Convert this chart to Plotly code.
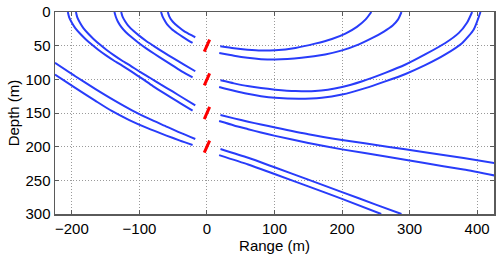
import plotly.graph_objects as go

# ---- data ----
# left-side pairs (arrive at the array from the upper left)
B1_x = [-68, -66, -63, -59, -52, -44, -36, -28, -21.3]
B1_d = [0, 6, 12, 18.5, 25.5, 31.5, 37, 42, 46]
B2_x = [-58, -56, -52.5, -48, -41, -34, -26, -17.3]
B2_d = [0, 6, 12, 17, 23, 28.5, 33, 37.5]

A1_x = [-137, -135, -132, -127, -120, -111, -101, -90, -78, -64, -50, -36, -21.3]
A1_d = [0, 7, 14, 22, 30, 38, 46, 54, 62, 71, 80, 89, 97]
A2_x = [-127, -125, -121, -116, -109, -100, -90, -78, -64, -50, -34, -17.3]
A2_d = [0, 7, 14, 21, 28, 35.5, 43, 51, 60, 68.5, 78, 88]

C1_x = [-206, -204, -200, -195, -188, -180, -171, -161, -150, -138, -125, -111, -96, -80, -63, -45, -33, -21.3]
C1_d = [0, 8, 16, 24, 32, 40, 48, 56, 64, 72, 80, 89, 99, 110, 121, 132, 139.5, 146.6]
C2_x = [-194, -192, -188, -183, -176, -168, -159, -149, -138, -126, -113, -99, -84, -68, -51, -34, -17.3]
C2_d = [0, 8, 16, 24, 32, 40, 48, 56, 64, 72, 80, 89, 98, 108, 118, 128.5, 138.7]

D1_x = [-225, -195, -165, -141, -115, -88, -60, -40, -21.3]
D1_d = [93, 112.6, 132, 147, 160.5, 172.5, 183.5, 191, 197.6]
D2_x = [-225, -195, -165, -136, -111, -86, -59, -38, -17.3]
D2_d = [75.5, 95.4, 114.5, 132, 146, 158.5, 170.5, 180, 188.6]

# right-side pairs (leave the array toward the right)
E1_x = [19.7, 40, 60, 80, 101, 131, 160, 185, 205, 222, 235, 243.4]
E1_d = [51, 54, 56, 57.3, 56.8, 53.3, 47, 40, 32, 22, 11, 0]
E2_x = [18.2, 40, 60, 80, 101, 140, 175, 200, 225, 245, 262, 275, 283, 288]
E2_d = [61, 65, 68, 70, 70.6, 68, 63, 57, 48, 38.5, 29, 20, 11, 0]

F1_x = [20, 40, 60, 80, 101, 131, 160, 200, 230, 264, 294, 323, 353, 373, 385, 392.6]
F1_d = [101.5, 106, 110, 113, 115.3, 117.5, 117.5, 111.3, 102.8, 90.4, 78, 63, 46, 31, 16, 0]
F2_x = [18, 40, 60, 80, 101, 136, 170, 200, 234.5, 264, 294, 323, 353, 378, 395, 405]
F2_d = [111.4, 117, 121.5, 125, 127.5, 129, 127.5, 122.6, 113, 103, 92, 79, 63, 46, 26, 0]

G1_x = [20, 40, 61, 80, 101, 150, 200, 267, 320, 380, 427]
G1_d = [153, 158, 163, 167, 171.5, 181.5, 190, 200, 208, 217, 224.5]
G2_x = [18, 40, 61, 80, 101, 150, 200, 267, 320, 380, 427]
G2_d = [162, 168.5, 174, 179, 184, 194.5, 204, 215, 224, 234, 243]

H1_x = [20, 61, 101, 150, 200, 250, 288]
H1_d = [203.5, 216.5, 231, 249, 267.5, 286, 300]
H2_x = [18, 61, 101, 150, 200, 258]
H2_d = [212.5, 226.5, 241, 259, 277.5, 300]

# red array segments at range 0
red_x = [[4, -4], [4, -4], [4, -4], [4, -4]]
red_d = [[41, 59], [91, 109], [141, 159], [191, 209]]

x_ticks = [-200, -100, 0, 100, 200, 300, 400]
y_ticks = [0, 50, 100, 150, 200, 250, 300]

BLUE = "rgb(40,60,250)"
RED = "rgb(255,0,0)"

blue_curves = [
    (B1_x, B1_d), (B2_x, B2_d), (A1_x, A1_d), (A2_x, A2_d),
    (C1_x, C1_d), (C2_x, C2_d), (D1_x, D1_d), (D2_x, D2_d),
    (E1_x, E1_d), (E2_x, E2_d), (F1_x, F1_d), (F2_x, F2_d),
    (G1_x, G1_d), (G2_x, G2_d), (H1_x, H1_d), (H2_x, H2_d),
]

fig = go.Figure()
for xs, ds in blue_curves:
    fig.add_trace(go.Scatter(x=xs, y=ds, mode="lines",
                             line=dict(color=BLUE, width=2, shape="spline", smoothing=0.6),
                             showlegend=False, hoverinfo="skip"))
for xs, ds in zip(red_x, red_d):
    fig.add_trace(go.Scatter(x=xs, y=ds, mode="lines",
                             line=dict(color=RED, width=3),
                             showlegend=False, hoverinfo="skip"))

axis_common = dict(
    showline=True, linecolor="#5a5a5a", linewidth=1.5, mirror="allticks",
    ticks="inside", ticklen=4, tickcolor="#5a5a5a", tickwidth=1,
    showgrid=True, gridcolor="#9a9a9a", griddash="1px,2px", gridwidth=1,
    zeroline=False, tickfont=dict(size=15, color="black"), automargin=False,
)

fig.update_layout(
    width=498, height=255,
    margin=dict(l=55, r=4, t=12, b=41),
    paper_bgcolor="white", plot_bgcolor="white",
    font=dict(family="Liberation Sans, Arial, sans-serif", size=15, color="black"),
    xaxis=dict(range=[-225, 425], tickvals=x_ticks,
               ticktext=[("\u2212" + str(-v)) if v < 0 else str(v) for v in x_ticks],
               title=dict(text="Range (m)", standoff=0, font=dict(size=15)),
               **axis_common),
    yaxis=dict(range=[300, 0], tickvals=y_ticks,
               title=dict(text="Depth (m)", standoff=2, font=dict(size=15)),
               **axis_common),
)

fig.write_html("out.html",
               config={"displayModeBar": False, "staticPlot": True},
               post_script="document.body.style.margin='0';document.body.style.padding='0';")
